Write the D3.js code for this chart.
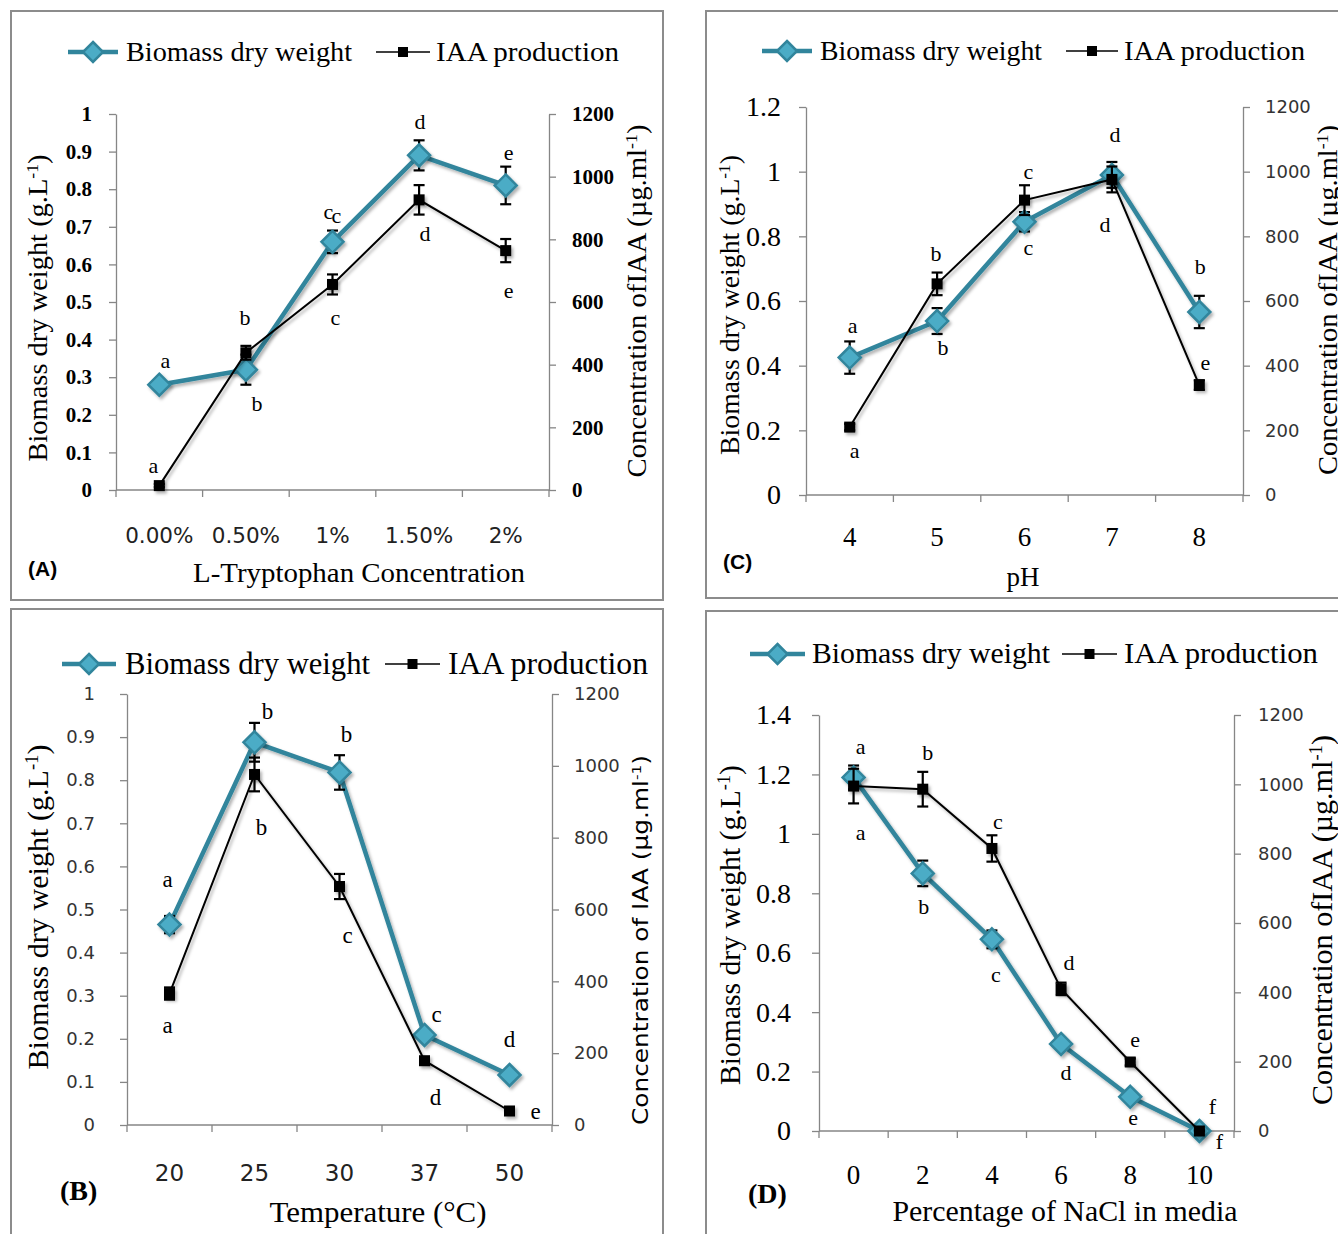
<!DOCTYPE html>
<html><head><meta charset="utf-8">
<script src="https://cdn.jsdelivr.net/npm/d3@7"></script>
<style>body{margin:0;background:#fff} svg{display:block}</style>
</head><body>
<svg id="chart" width="1338" height="1234"></svg>
<script>
// ---------------- DATA ----------------
// (A) L-Tryptophan
const tryptophanLabels = ["0.00%","0.50%","1%","1.50%","2%"];
const tryptophanBiomass = [0.28,0.32,0.66,0.89,0.81];
const tryptophanBiomassErr = [0.005,0.04,0.03,0.04,0.05];
const tryptophanIAA = [14,438,656,926,764];
const tryptophanIAAErr = [5,22,32,47,37];
const tryptophanBiomassLetters = ["a","b","c","d","e"];
const tryptophanIAALetters = ["a","b","c","d","e"];
// (C) pH
const phLabels = ["4","5","6","7","8"];
const phBiomass = [0.425,0.538,0.845,0.99,0.566];
const phBiomassErr = [0.05,0.04,0.03,0.04,0.05];
const phIAA = [210,653,912,976,340];
const phIAAErr = [10,35,46,40,15];
const phBiomassLetters = ["a","b","c","d","b"];
const phIAALetters = ["a","b","c","d","e"];
// (B) Temperature
const tempLabels = ["20","25","30","37","50"];
const tempBiomass = [0.465,0.888,0.818,0.209,0.116];
const tempBiomassErr = [0.02,0.045,0.04,0.01,0.01];
const tempIAA = [366,976,664,179,39];
const tempIAAErr = [17,47,35,6,6];
const tempBiomassLetters = ["a","b","b","c","d"];
const tempIAALetters = ["a","b","c","d","e"];
// (D) NaCl
const naclLabels = ["0","2","4","6","8","10"];
const naclBiomass = [1.19,0.867,0.645,0.293,0.115,0.0];
const naclBiomassErr = [0.04,0.043,0.03,0.01,0.01,0.005];
const naclIAA = [995,986,815,410,199,0];
const naclIAAErr = [50,50,38,18,10,3];
const naclBiomassLetters = ["a","b","c","d","e","f"];
const naclIAALetters = ["a","b","c","d","e","f"];
// Tick values
const leftTicks10 = [0,0.1,0.2,0.3,0.4,0.5,0.6,0.7,0.8,0.9,1];
const leftTicks12 = [0,0.2,0.4,0.6,0.8,1,1.2];
const leftTicks14 = [0,0.2,0.4,0.6,0.8,1,1.2,1.4];
const rightTicks = [0,200,400,600,800,1000,1200];
const legendNames = ["Biomass dry weight","IAA production"];

// ---------------- STYLE ----------------
const SERIF = "'Liberation Serif','Times New Roman',serif";
const SANS = "'DejaVu Sans',Verdana,sans-serif";
const LSANS = "'Liberation Sans',Arial,sans-serif";
const TEAL = "#31859C", TEAL_FILL = "#4BACC6", AXIS = "#868686";
const fmt = d => String(+d.toFixed(1));
const fmtInt = d => String(d);

const svg = d3.select("#chart");
svg.append("rect").attr("width",1338).attr("height",1234).attr("fill","#fff");
const defs = svg.append("defs");
const flt = defs.append("filter").attr("id","shadow").attr("x","-50%").attr("y","-50%").attr("width","200%").attr("height","200%");
flt.append("feDropShadow").attr("dx",2).attr("dy",2.5).attr("stdDeviation",1.8).attr("flood-color","#000").attr("flood-opacity",0.3);

function diamond(r){ return `M0,${-r}L${r},0L0,${r}L${-r},0Z`; }

function rotTitle(g, t){
  const tg = g.append("g").attr("transform",`translate(${t.x},${t.y}) rotate(-90)`);
  const tx = tg.append("text").attr("text-anchor","middle").attr("dy","0.35em")
    .attr("font-family",t.font).attr("font-size",t.size).attr("fill","#000");
  tx.append("tspan").text(t.text);
  tx.append("tspan").attr("baseline-shift","super").attr("font-size",t.size*0.62).text("-1");
  tx.append("tspan").text(")");
  if (t.len) tx.attr("textLength",t.len).attr("lengthAdjust","spacingAndGlyphs");
}

function drawPanel(L, D){
  const g = svg.append("g");
  g.append("rect").attr("x",L.frame[0]).attr("y",L.frame[1]).attr("width",L.frame[2]).attr("height",L.frame[3])
    .attr("fill","none").attr("stroke","#8c8c8c").attr("stroke-width",2);

  const x = d3.scaleBand().domain(D.cats).range([L.x0,L.x1]);
  const cx = c => x(c) + x.bandwidth()/2;
  const yL = d3.scaleLinear().domain([0,D.leftMax]).range([L.yB,L.yT]);
  const yR = d3.scaleLinear().domain([0,1200]).range([L.yB,L.yT]);

  // left axis
  const la = g.append("g").attr("transform",`translate(${L.x0},0)`)
    .call(d3.axisLeft(yL).tickValues(D.leftTicks).tickFormat(fmt).tickSizeInner(7).tickSizeOuter(0));
  la.attr("font-family",null).attr("font-size",null);
  la.select(".domain").attr("stroke",AXIS).attr("stroke-width",1.3);
  la.selectAll(".tick line").attr("stroke",AXIS).attr("stroke-width",1.3);
  la.selectAll("text").attr("x",-(L.x0-L.leftTick.end)).attr("fill",L.leftTick.color||"#000")
    .attr("font-family",L.leftTick.font).attr("font-size",L.leftTick.size).attr("font-weight",L.leftTick.weight||"normal");

  // right axis
  const ra = g.append("g").attr("transform",`translate(${L.x1},0)`)
    .call(d3.axisRight(yR).tickValues(rightTicks).tickFormat(fmtInt).tickSizeInner(7).tickSizeOuter(0));
  ra.attr("font-family",null).attr("font-size",null);
  ra.select(".domain").attr("stroke",AXIS).attr("stroke-width",1.3);
  ra.selectAll(".tick line").attr("stroke",AXIS).attr("stroke-width",1.3);
  ra.selectAll("text").attr("x",L.rightTick.start-L.x1).attr("fill",L.rightTick.color||"#000")
    .attr("font-family",L.rightTick.font).attr("font-size",L.rightTick.size).attr("font-weight",L.rightTick.weight||"normal");

  // bottom axis
  const ba = g.append("g").attr("transform",`translate(0,${L.yB})`).call(d3.axisBottom(x).tickSize(0));
  ba.attr("font-family",null).attr("font-size",null);
  ba.select(".domain").remove();
  ba.selectAll("text").attr("y",L.xTick.base-L.yB).attr("dy",null).attr("fill",L.xTick.color||"#000")
    .attr("font-family",L.xTick.font).attr("font-size",L.xTick.size);
  const bounds = D.cats.map(c=>x(c)).concat([x.range()[1]]);
  g.append("line").attr("x1",L.x0).attr("x2",L.x1).attr("y1",L.yB).attr("y2",L.yB).attr("stroke",AXIS).attr("stroke-width",1.3);
  g.selectAll(null).data(bounds).join("line").attr("x1",d=>d).attr("x2",d=>d)
    .attr("y1",L.yB).attr("y2",L.yB+7).attr("stroke",AXIS).attr("stroke-width",1.3);

  // titles
  rotTitle(g, L.leftTitle);
  rotTitle(g, L.rightTitle);
  const xt = g.append("text").attr("x",L.xTitle.x).attr("y",L.xTitle.y).attr("text-anchor","middle")
    .attr("font-family",SERIF).attr("font-size",L.xTitle.size).attr("fill","#000").text(L.xTitle.text);
  if (L.xTitle.len) xt.attr("textLength",L.xTitle.len).attr("lengthAdjust","spacingAndGlyphs");
  g.append("text").attr("x",L.tag.x).attr("y",L.tag.y).attr("font-family",L.tag.font).attr("font-size",L.tag.size)
    .attr("font-weight","bold").attr("fill","#000").text(L.tag.text);

  // legend
  const lg = L.legend;
  g.append("line").attr("x1",lg.teal[0]).attr("x2",lg.teal[1]).attr("y1",lg.y).attr("y2",lg.y)
    .attr("stroke",TEAL).attr("stroke-width",4.5);
  g.append("path").attr("d",diamond(10)).attr("transform",`translate(${(lg.teal[0]+lg.teal[1])/2},${lg.y})`)
    .attr("fill",TEAL_FILL).attr("stroke",TEAL).attr("stroke-width",2.5);
  g.append("text").attr("x",lg.t1).attr("y",lg.y+lg.size*0.32).attr("font-family",SERIF).attr("font-size",lg.size)
    .attr("fill","#000").attr("textLength",lg.w1).attr("lengthAdjust","spacingAndGlyphs").text(legendNames[0]);
  g.append("line").attr("x1",lg.black[0]).attr("x2",lg.black[1]).attr("y1",lg.y).attr("y2",lg.y)
    .attr("stroke","#000").attr("stroke-width",1.6);
  g.append("rect").attr("x",(lg.black[0]+lg.black[1])/2-5).attr("y",lg.y-5).attr("width",10).attr("height",10).attr("fill","#000");
  g.append("text").attr("x",lg.t2).attr("y",lg.y+lg.size*0.32).attr("font-family",SERIF).attr("font-size",lg.size)
    .attr("fill","#000").attr("textLength",lg.w2).attr("lengthAdjust","spacingAndGlyphs").text(legendNames[1]);

  const idx = D.cats.map((c,i)=>i);
  // biomass series
  const lineB = d3.line().x(i=>cx(D.cats[i])).y(i=>yL(D.bio[i]));
  g.append("path").attr("d",lineB(idx)).attr("fill","none").attr("stroke",TEAL).attr("stroke-width",4.5)
    .attr("stroke-linejoin","round").attr("filter","url(#shadow)");
  const errG = (vals, errs, sc) => {
    const eg = g.append("g").attr("stroke","#000").attr("stroke-width",2.2);
    idx.forEach(i=>{
      const xx = cx(D.cats[i]), y1 = sc(vals[i]+errs[i]), y2 = sc(Math.max(0,vals[i]-errs[i]));
      eg.append("line").attr("x1",xx).attr("x2",xx).attr("y1",y1).attr("y2",y2);
      eg.append("line").attr("x1",xx-5.5).attr("x2",xx+5.5).attr("y1",y1).attr("y2",y1);
      eg.append("line").attr("x1",xx-5.5).attr("x2",xx+5.5).attr("y1",y2).attr("y2",y2);
    });
  };
  errG(D.bio, D.bioErr, yL);
  g.append("g").selectAll("path").data(idx).join("path").attr("d",diamond(11))
    .attr("transform",i=>`translate(${cx(D.cats[i])},${yL(D.bio[i])})`)
    .attr("fill",TEAL_FILL).attr("stroke",TEAL).attr("stroke-width",2.5).attr("filter","url(#shadow)");
  // IAA series
  const lineI = d3.line().x(i=>cx(D.cats[i])).y(i=>yR(D.iaa[i]));
  g.append("path").attr("d",lineI(idx)).attr("fill","none").attr("stroke","#000").attr("stroke-width",2)
    .attr("filter","url(#shadow)");
  errG(D.iaa, D.iaaErr, yR);
  g.append("g").selectAll("rect").data(idx).join("rect")
    .attr("x",i=>cx(D.cats[i])-5.5).attr("y",i=>yR(D.iaa[i])-5.5).attr("width",11).attr("height",11)
    .attr("fill","#000").attr("filter","url(#shadow)");

  // significance letters
  const lf = L.letterSize;
  idx.forEach(i=>{
    const ob = L.bioOff[i], oi = L.iaaOff[i];
    g.append("text").attr("x",cx(D.cats[i])+ob[0]).attr("y",yL(D.bio[i])+ob[1]+lf*0.3).attr("text-anchor","middle")
      .attr("font-family",SERIF).attr("font-size",lf).attr("fill","#000").text(D.bioLetters[i]);
    g.append("text").attr("x",cx(D.cats[i])+oi[0]).attr("y",yR(D.iaa[i])+oi[1]+lf*0.3).attr("text-anchor","middle")
      .attr("font-family",SERIF).attr("font-size",lf).attr("fill","#000").text(D.iaaLetters[i]);
  });
  (L.extra||[]).forEach(e=>{
    g.append("text").attr("x",cx(D.cats[e.i])+e.dx).attr("y",yL(D.bio[e.i])+e.dy+lf*0.3).attr("text-anchor","middle")
      .attr("font-family",SERIF).attr("font-size",lf).attr("fill","#000").text(D.bioLetters[e.i]);
  });
}

// ---------------- PANELS ----------------
drawPanel({
  frame:[11,11,652,589], x0:116, x1:549, yB:490, yT:114,
  leftTick:{end:92, font:SERIF, size:21, weight:"bold"},
  rightTick:{start:572, font:SERIF, size:21, weight:"bold"},
  xTick:{base:543, font:SANS, size:21.5, color:"#222"},
  leftTitle:{x:38, y:308, font:SERIF, size:27, text:"Biomass dry weight (g.L", len:307},
  rightTitle:{x:637, y:301, font:SERIF, size:27, text:"Concentration ofIAA (µg.ml", len:353},
  xTitle:{x:359, y:582, size:28, text:"L-Tryptophan Concentration", len:332},
  tag:{x:28, y:576, font:LSANS, size:21, text:"(A)"},
  legend:{y:52, teal:[68,118], t1:126, w1:226, black:[376,430], t2:436, w2:183, size:28},
  letterSize:22,
  bioOff:[[6,-23],[11,35],[4,-25],[1,-33],[3,-32]],
  iaaOff:[[-6,-19],[-1,-34],[3,34],[6,35],[3,41]],
  extra:[{i:2, dx:-4, dy:-29}]
},{cats:tryptophanLabels, bio:tryptophanBiomass, bioErr:tryptophanBiomassErr, iaa:tryptophanIAA, iaaErr:tryptophanIAAErr,
   bioLetters:tryptophanBiomassLetters, iaaLetters:tryptophanIAALetters, leftMax:1, leftTicks:leftTicks10});

drawPanel({
  frame:[706,11,650,587], x0:806, x1:1243, yB:495, yT:107,
  leftTick:{end:781, font:SERIF, size:28},
  rightTick:{start:1265, font:SANS, size:18, color:"#333"},
  xTick:{base:546, font:SERIF, size:27},
  leftTitle:{x:730, y:305, font:SERIF, size:27, text:"Biomass dry weight (g.L", len:300},
  rightTitle:{x:1328, y:300, font:SERIF, size:27, text:"Concentration ofIAA (µg.ml", len:350},
  xTitle:{x:1023, y:586, size:27, text:"pH"},
  tag:{x:723, y:569, font:LSANS, size:21, text:"(C)"},
  legend:{y:51, teal:[762,812], t1:820, w1:222, black:[1066,1118], t2:1124, w2:181, size:28},
  letterSize:22,
  bioOff:[[3,-31],[6,27],[4,27],[3,-40],[1,-45]],
  iaaOff:[[5,24],[-1,-29],[4,-28],[-7,46],[6,-22]]
},{cats:phLabels, bio:phBiomass, bioErr:phBiomassErr, iaa:phIAA, iaaErr:phIAAErr,
   bioLetters:phBiomassLetters, iaaLetters:phIAALetters, leftMax:1.2, leftTicks:leftTicks12});

drawPanel({
  frame:[11,609,652,640], x0:127, x1:552, yB:1125, yT:694,
  leftTick:{end:95, font:SANS, size:18, color:"#333"},
  rightTick:{start:574, font:SANS, size:18, color:"#333"},
  xTick:{base:1181, font:SANS, size:23, color:"#222"},
  leftTitle:{x:38, y:907, font:SERIF, size:29, text:"Biomass dry weight (g.L", len:325},
  rightTitle:{x:641, y:940, font:SANS, size:21, text:"Concentration of IAA (µg.ml", len:370},
  xTitle:{x:378, y:1222, size:30, text:"Temperature (°C)", len:217},
  tag:{x:60, y:1200, font:SERIF, size:28, text:"(B)"},
  legend:{y:664, teal:[62,116], t1:125, w1:245, black:[385,440], t2:448, w2:200, size:30.5},
  letterSize:23,
  bioOff:[[-2,-44],[13,-30],[7,-37],[12,-20],[0,-35]],
  iaaOff:[[-2,33],[7,54],[8,50],[11,37],[26,1]]
},{cats:tempLabels, bio:tempBiomass, bioErr:tempBiomassErr, iaa:tempIAA, iaaErr:tempIAAErr,
   bioLetters:tempBiomassLetters, iaaLetters:tempIAALetters, leftMax:1, leftTicks:leftTicks10});

drawPanel({
  frame:[706,611,650,640], x0:819, x1:1234, yB:1131, yT:715,
  leftTick:{end:791, font:SERIF, size:28},
  rightTick:{start:1258, font:SANS, size:18, color:"#333"},
  xTick:{base:1184, font:SERIF, size:27},
  leftTitle:{x:730, y:925, font:SERIF, size:29, text:"Biomass dry weight (g.L", len:320},
  rightTitle:{x:1322, y:920, font:SERIF, size:29, text:"Concentration ofIAA (µg.ml", len:370},
  xTitle:{x:1065, y:1221, size:29.5, text:"Percentage of NaCl in media", len:345},
  tag:{x:748, y:1203, font:SERIF, size:28, text:"(D)"},
  legend:{y:654, teal:[750,805], t1:812, w1:238, black:[1062,1117], t2:1124, w2:194, size:29.5},
  letterSize:22,
  bioOff:[[7,-30],[1,34],[4,36],[5,29],[3,22],[20,11]],
  iaaOff:[[7,47],[5,-36],[6,-26],[8,-25],[5,-22],[13,-24]]
},{cats:naclLabels, bio:naclBiomass, bioErr:naclBiomassErr, iaa:naclIAA, iaaErr:naclIAAErr,
   bioLetters:naclBiomassLetters, iaaLetters:naclIAALetters, leftMax:1.4, leftTicks:leftTicks14});
</script>
</body></html>
